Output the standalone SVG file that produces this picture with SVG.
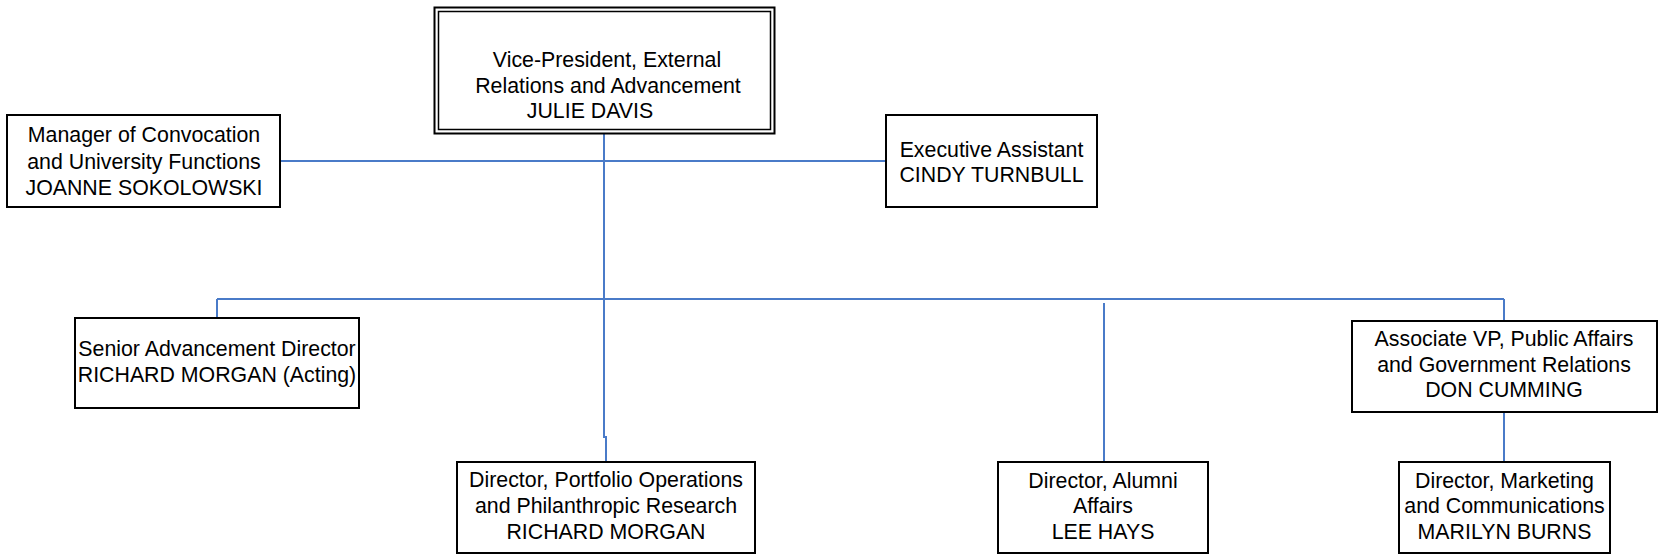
<svg xmlns="http://www.w3.org/2000/svg" width="1663" height="556" viewBox="0 0 1663 556">
<style>
.box{fill:#fff;stroke:#000;stroke-width:2}
.t{font-family:"Liberation Sans",Arial,sans-serif;font-size:21.33px;fill:#000;text-anchor:middle}
.c{fill:none;stroke:#4a7bc8;stroke-width:2}
</style>
<rect width="1663" height="556" fill="#fff"/>
<g id="connectors">
<line class="c" x1="280" y1="161" x2="886" y2="161"/>
<path class="c" d="M604 133 V437 H606 V462"/>
<line class="c" x1="217" y1="299" x2="1504" y2="299"/>
<line class="c" x1="217" y1="299" x2="217" y2="318"/>
<line class="c" x1="1504" y1="299" x2="1504" y2="321"/>
<line class="c" x1="1104" y1="303" x2="1104" y2="462"/>
<line class="c" x1="1504" y1="412" x2="1504" y2="462"/>
</g>
<g id="vp">
<rect x="434.5" y="7.5" width="340" height="126" fill="#fff" stroke="#000" stroke-width="2"/>
<rect x="438.5" y="11.5" width="332" height="118" fill="none" stroke="#000" stroke-width="1.5"/>
<text class="t" x="607" y="67">Vice-President, External</text>
<text class="t" x="608" y="93">Relations and Advancement</text>
<text class="t" x="590" y="118">JULIE DAVIS</text>
</g>
<g id="manager">
<rect class="box" x="7" y="115" width="273" height="92"/>
<text class="t" x="144" y="142">Manager of Convocation</text>
<text class="t" x="144" y="169">and University Functions</text>
<text class="t" x="144" y="195">JOANNE SOKOLOWSKI</text>
</g>
<g id="exec">
<rect class="box" x="886" y="115" width="211" height="92"/>
<text class="t" x="991.5" y="157">Executive Assistant</text>
<text class="t" x="991.5" y="182">CINDY TURNBULL</text>
</g>
<g id="senior">
<rect class="box" x="75" y="318" width="284" height="90"/>
<text class="t" x="217" y="356">Senior Advancement Director</text>
<text class="t" x="217" y="382">RICHARD MORGAN (Acting)</text>
</g>
<g id="portfolio">
<rect class="box" x="457" y="462" width="298" height="91"/>
<text class="t" x="606" y="487">Director, Portfolio Operations</text>
<text class="t" x="606" y="513">and Philanthropic Research</text>
<text class="t" x="606" y="539">RICHARD MORGAN</text>
</g>
<g id="alumni">
<rect class="box" x="998" y="462" width="210" height="91"/>
<text class="t" x="1103" y="488">Director, Alumni</text>
<text class="t" x="1103" y="513">Affairs</text>
<text class="t" x="1103" y="539">LEE HAYS</text>
</g>
<g id="associate">
<rect class="box" x="1352" y="321" width="305" height="91"/>
<text class="t" x="1504" y="346">Associate VP, Public Affairs</text>
<text class="t" x="1504" y="372">and Government Relations</text>
<text class="t" x="1504" y="397">DON CUMMING</text>
</g>
<g id="marketing">
<rect class="box" x="1399" y="462" width="211" height="91"/>
<text class="t" x="1504.5" y="488">Director, Marketing</text>
<text class="t" x="1504.5" y="513">and Communications</text>
<text class="t" x="1504.5" y="539">MARILYN BURNS</text>
</g>
</svg>
